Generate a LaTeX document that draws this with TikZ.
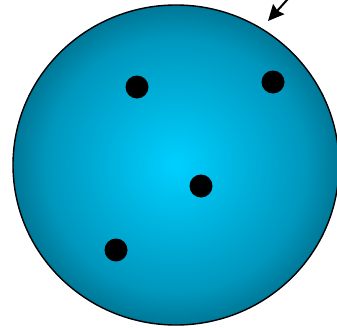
\documentclass[tikz,border=0pt]{standalone}
\usetikzlibrary{arrows.meta,shapes.geometric}
\definecolor{ccenter}{RGB}{0,208,255}
\definecolor{cmid}{RGB}{0,150,188}
\definecolor{cedge}{RGB}{0,70,90}
\pgfdeclareradialshading{ballshade}{\pgfpoint{0bp}{0bp}}{color(0bp)=(ccenter); color(20bp)=(cmid); color(33bp)=(cedge); color(50bp)=(cedge)}
\tikzset{
  ball/.style={draw=black, line width=1.4pt, shading=ballshade},
  dotpt/.style={circle, fill=black, inner sep=0pt, minimum size=23pt},
  pointer/.style={-{Stealth[length=16pt,width=15pt,inset=2pt]}, line width=2pt}
}
\begin{document}
\begin{tikzpicture}[x=1pt,y=-1pt]
\useasboundingbox (0,0) rectangle (337,327);
\clip (0,0) rectangle (337,327);
\node[ball, ellipse, minimum width=326pt, minimum height=320pt, inner sep=0pt] (disk) at (176,165) {};
\node[dotpt] (p1) at (137,87) {};
\node[dotpt] (p2) at (273,82) {};
\node[dotpt] (p3) at (201,186) {};
\node[dotpt] (p4) at (116,250) {};
\coordinate (from) at (296,-10);
\coordinate (tip) at (268,21);
\draw[pointer] (from) -- (tip);
\end{tikzpicture}
\end{document}
